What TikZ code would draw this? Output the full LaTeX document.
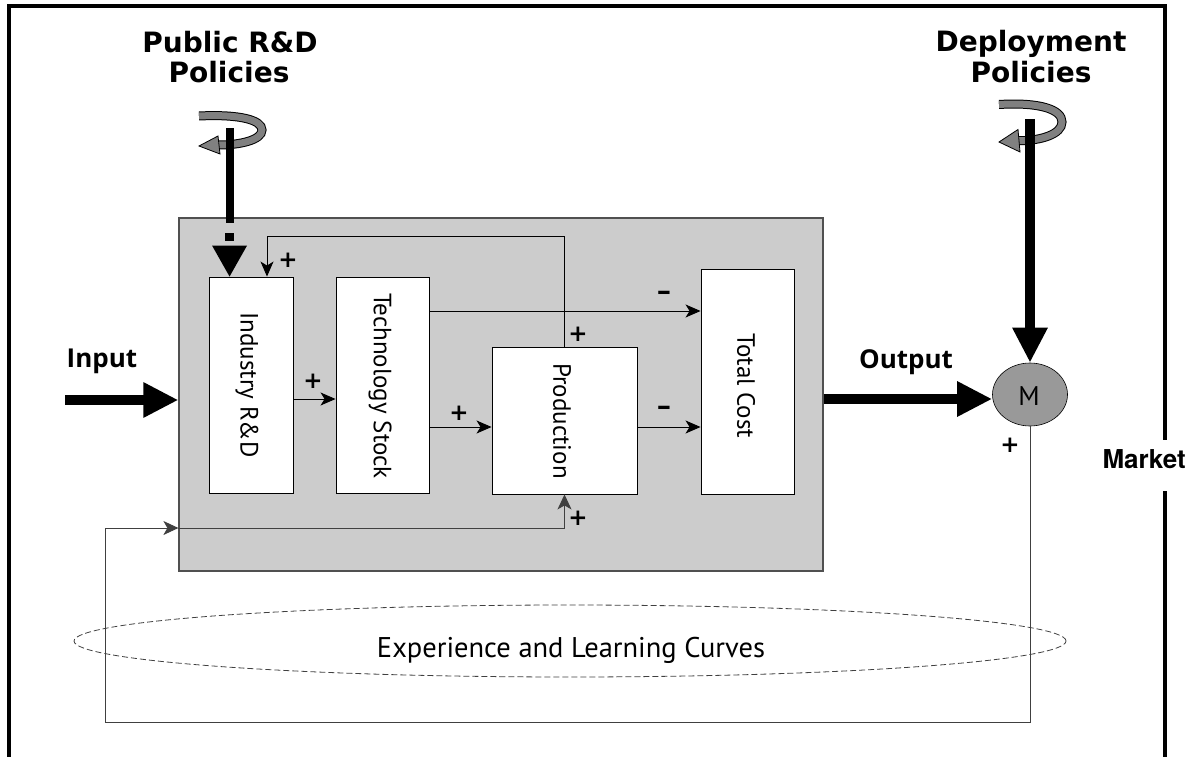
\documentclass[tikz,border=0pt]{standalone}
\usepackage{fontspec}
\setmainfont{PT Sans}
\newfontfamily\heavyfont{DejaVu Sans}
\newfontfamily\boldsans{Open Sans}
\newfontfamily\marketfont{TeX Gyre Heros}
\usetikzlibrary{arrows.meta,calc,shapes.geometric}

\definecolor{panel}{HTML}{CCCCCC}
\definecolor{paneledge}{HTML}{505050}
\definecolor{twistgrey}{HTML}{808080}
\definecolor{marketgrey}{HTML}{999999}
\definecolor{loopgrey}{HTML}{404040}
\definecolor{ovalgrey}{HTML}{404040}

\tikzset{
  box/.style={draw=black, fill=white, line width=0.9pt, inner sep=0pt},
  boxlabel/.style={rotate=-90, inner sep=0pt, font=\fontsize{25}{27}\selectfont},
  link/.style={line width=0.9pt, -{Stealth[length=15pt,width=13pt,inset=4pt]}},
  feedback/.style={draw=loopgrey, line width=1pt},
  bigarrow/.style={line width=9.5pt, -{Triangle[length=35pt,width=33pt]}},
  signmark/.style={inner sep=0pt, font=\heavyfont\bfseries\fontsize{23}{23}\selectfont},
  policy/.style={anchor=base, inner sep=0pt, font=\heavyfont\bfseries\fontsize{28}{30}\selectfont},
  flowlabel/.style={anchor=base, inner sep=0pt, font=\boldsans\bfseries\fontsize{26}{28}\selectfont},
  outerframe/.style={line width=4pt},
  pics/twist/.style={code={
    \draw[line width=9pt] (-31,-14) .. controls (10,-16) and (32,-10) .. (32,0)
          .. controls (32,10) and (10,15) .. (-11,15);
    \draw[line width=7pt, twistgrey] (-31,-14) .. controls (10,-16) and (32,-10) .. (32,0)
          .. controls (32,10) and (10,15) .. (-11,15);
    \filldraw[fill=twistgrey, draw=black, line width=0.8pt] (-12,6) -- (-31,16) -- (-10,24) -- cycle;
  }},
}

\begin{document}
\begin{tikzpicture}[x=1pt, y=-1pt]
\useasboundingbox (0,0) rectangle (1196,757);

% outer frame, broken on the right for the Market label
\draw[outerframe, line join=miter] (8.5,757) -- (8.5,6.5) -- (1164.5,6.5) -- (1164.5,440);
\draw[outerframe] (1164.5,491) -- (1164.5,757);
\node[anchor=base east, inner sep=0pt, font=\marketfont\bfseries\fontsize{26}{28}\selectfont] (mkt) at (1186,468) {Market};

% firm panel and its blocks
\node[fill=panel, draw=paneledge, line width=1.2pt, inner sep=0pt,
      minimum width=644pt, minimum height=353pt] (firm) at (501,394.5) {};
\node[box, minimum width=84pt,  minimum height=216pt] (ind)  at (251,385) {};
\node[box, minimum width=93pt,  minimum height=216pt] (tech) at (382.5,385) {};
\node[box, minimum width=145pt, minimum height=147pt] (prod) at (564.5,420.5) {};
\node[box, minimum width=93pt,  minimum height=225pt] (tot)  at (747.5,381.5) {};

\node[boxlabel] (indt)  at (247,385)   {Industry R\&D};
\node[boxlabel] (techt) at (380,386)   {Technology Stock};
\node[boxlabel] (prodt) at (562,421)   {Production};
\node[boxlabel] (tott)  at (746,386)   {Total Cost};

% market node
\node[ellipse, fill=marketgrey, draw=black, line width=0.6pt, inner sep=0pt,
      minimum width=75pt, minimum height=63pt] (M) at (1030,394.5) {};
\node[anchor=base, inner sep=0pt, font=\fontsize{27}{29}\selectfont] (Mt) at (1029,405) {M};

% experience oval
\node[ellipse, draw=ovalgrey, line width=0.8pt, dash pattern=on 6pt off 3pt,
      minimum width=992pt, minimum height=72pt, inner sep=0pt] (exp) at (570,641) {};
\node[anchor=base, inner sep=0pt, font=\fontsize{28.5}{30}\selectfont] (expt) at (571,657) {Experience and Learning Curves};

% links between blocks
\draw[link] (ind.east |- 0,399) -- (tech.west |- 0,399);
\draw[link] (tech.east |- 0,311) -- (tot.west |- 0,311);
\draw[link] (tech.east |- 0,427) -- (prod.west |- 0,427);
\draw[link] (prod.east |- 0,427) -- (tot.west |- 0,427);
\coordinate (fbturn) at (267,236);
\draw[link] (prod.north) |- (fbturn) -- (fbturn |- ind.north);

% market feedback loop
\coordinate (loopbr) at (1030,722);
\coordinate (loopbl) at (105,722);
\coordinate (loopin) at (firm.west |- 0,528);
\draw[feedback] (M.south) -- (loopbr) -- (loopbl) -- (loopbl |- loopin);
\draw[feedback, -{Stealth[length=15pt,width=14pt,inset=4pt]}] (loopbl |- loopin) -- (loopin);
\draw[feedback, -{Stealth[length=15pt,width=14pt,inset=4pt]}] (loopin) -| (prod.south);

% input and output
\node[flowlabel] (inl) at (102,367) {Input};
\node[flowlabel] (outl) at (906,368) {Output};
\coordinate (instart) at (65,400);
\draw[bigarrow] (instart) -- (firm.west |- instart);
\draw[bigarrow] (firm.east |- 0,399) -- (M.west |- 0,399);

% public R&D policies
\node[policy] (pub1) at (230,53) {Public R\&D};
\node[policy] (pub2) at (229,83) {Policies};
\pic at (230,130) {twist};
\coordinate (prtop) at (230,128);
\coordinate (prtip) at ($(ind.north west)+(21,0)$);
\fill ($(prtop)+(-4.5,0)$) rectangle ($(prtip)+(4.5,-54)$);
\fill ($(prtip)+(-4.5,-44)$) rectangle ($(prtip)+(4.5,-36)$);
\fill ($(prtip)+(-17.5,-31)$) -- ($(prtip)+(17.5,-31)$) -- (prtip) -- cycle;

% deployment policies
\node[policy] (dep1) at (1031,52) {Deployment};
\node[policy] (dep2) at (1031,83) {Policies};
\pic[yscale=1.25] at (1030,122) {twist};
\coordinate (dptop) at (1030,119);
\draw[bigarrow] (dptop) -- (M.north);

% signs
\node[signmark] (s1) at (288,260) {+};
\node[signmark] (s2) at (313,381) {+};
\node[signmark] (s3) at (459,413) {+};
\node[signmark] (s4) at (578,334) {+};
\node[signmark] (s5) at (578,518) {+};
\node[signmark] (s6) at (1010,445) {+};
\node[signmark] (s7) at (664,295) {\scalebox{1.6}[1]{-}};
\node[signmark] (s8) at (664,410) {\scalebox{1.6}[1]{-}};
\end{tikzpicture}
\end{document}
